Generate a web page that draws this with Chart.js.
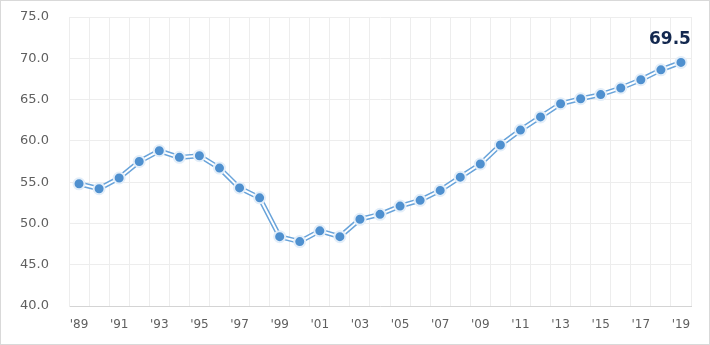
<!DOCTYPE html>
<html>
<head>
<meta charset="utf-8">
<script src="https://cdn.jsdelivr.net/npm/chart.js@4/dist/chart.umd.min.js"></script>
<style>
  html, body { margin: 0; padding: 0; background: #fff; }
  .frame { position: relative; width: 710px; height: 345px; box-sizing: border-box; border: 1px solid #d9d9d9; }
  canvas { position: absolute; left: 0; top: 0; }
</style>
</head>
<body>
<div class="frame"><canvas id="lineChart" width="710" height="345"></canvas></div>
<script>
// ============================================================
// DATA
// ============================================================
const years = ["'89","'90","'91","'92","'93","'94","'95","'96","'97","'98",
               "'99","'00","'01","'02","'03","'04","'05","'06","'07","'08",
               "'09","'10","'11","'12","'13","'14","'15","'16","'17","'18","'19"];
const values = [54.8, 54.2, 55.5, 57.5, 58.8, 58.0, 58.2, 56.7, 54.3, 53.1,
                48.4, 47.8, 49.1, 48.4, 50.5, 51.1, 52.1, 52.8, 54.0, 55.6,
                57.2, 59.5, 61.3, 62.9, 64.5, 65.1, 65.6, 66.4, 67.4, 68.6, 69.5];
const yTicks = [40, 45, 50, 55, 60, 65, 70, 75];

const COLORS = {
  blue: '#6aa4da',
  dot: '#4f90cf',
  ring: '#e3eef9',
  grid: '#ededed',
  axis: '#d4d4d4',
  tick: '#5f5f5f',
  label: '#13284f'
};

// last value label, placed above the final point
const lastLabel = {
  id: 'lastLabel',
  afterDatasetsDraw(chart) {
    const meta = chart.getDatasetMeta(2);
    const pt = meta.data[meta.data.length - 1];
    const ctx = chart.ctx;
    ctx.save();
    ctx.font = 'bold 17px "DejaVu Sans"';
    ctx.fillStyle = COLORS.label;
    ctx.textAlign = 'center';
    ctx.textBaseline = 'alphabetic';
    ctx.fillText(values[values.length - 1].toFixed(1), pt.x - 11, pt.y - 18);
    ctx.restore();
  }
};

new Chart(document.getElementById('lineChart'), {
  type: 'line',
  data: {
    labels: years,
    datasets: [
      { // blue outer edge of the double line
        data: values,
        borderColor: COLORS.blue,
        borderWidth: 5,
        pointRadius: 0,
        tension: 0,
        order: 3
      },
      { // white centre of the double line
        data: values,
        borderColor: '#ffffff',
        borderWidth: 2,
        pointRadius: 0,
        tension: 0,
        order: 2
      },
      { // markers
        data: values,
        showLine: false,
        pointRadius: 5.5,
        pointBackgroundColor: COLORS.dot,
        pointBorderColor: COLORS.ring,
        pointBorderWidth: 2,
        order: 1
      }
    ]
  },
  options: {
    responsive: false,
    animation: false,
    events: [],
    layout: { padding: { top: 16, right: 20, left: 0, bottom: 0 } },
    plugins: { legend: { display: false }, tooltip: { enabled: false } },
    scales: {
      x: {
        offset: true,
        grid: { offset: true, color: COLORS.grid, drawTicks: false },
        border: { color: COLORS.axis },
        ticks: {
          autoSkip: false,
          maxRotation: 0,
          padding: 12,
          color: COLORS.tick,
          font: { family: '"DejaVu Sans"', size: 12 },
          callback: (v, i) => (i % 2 === 0 ? years[i] : '')
        },
        afterFit: s => { s.height = 40; }
      },
      y: {
        min: 40,
        max: 75,
        afterBuildTicks: s => { s.ticks = yTicks.map(v => ({ value: v })); },
        // invisible tick marks push the labels away from the plot
        grid: { color: COLORS.grid, drawTicks: true, tickLength: 16, tickColor: 'rgba(0,0,0,0)' },
        border: { color: COLORS.grid },
        ticks: {
          padding: 4,
          color: COLORS.tick,
          font: { family: '"DejaVu Sans"', size: 13 },
          callback: v => v.toFixed(1)
        },
        afterFit: s => { s.width = 68; }
      }
    }
  },
  plugins: [lastLabel]
});
</script>
</body>
</html>
